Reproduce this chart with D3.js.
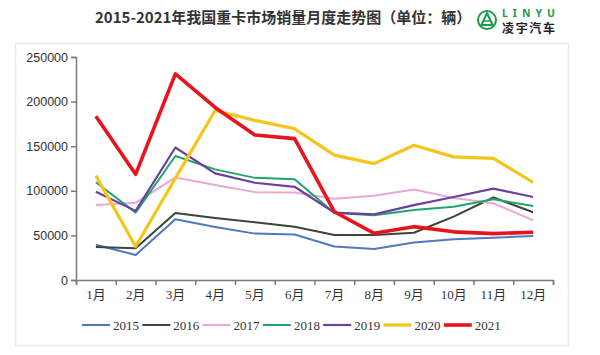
<!DOCTYPE html>
<html><head><meta charset="utf-8">
<script src="https://cdn.jsdelivr.net/npm/d3@7"></script>
<style>
html,body{margin:0;padding:0;background:#fff;}
svg{display:block;}
</style></head>
<body>
<svg id="chart" width="600" height="355"></svg>
<script>
const months = ["1月","2月","3月","4月","5月","6月","7月","8月","9月","10月","11月","12月"];
const yTicks = [0,50000,100000,150000,200000,250000];
const years = ["2015","2016","2017","2018","2019","2020","2021"];
const s2015 = [39500,28000,68000,59500,52000,51000,37500,34800,42000,45600,47400,49300];
const s2016 = [37000,35500,75000,69500,64700,59800,50400,50400,53000,71000,92500,76000];
const s2017 = [84000,86500,115000,106500,98500,98000,91000,94500,101500,92000,86000,67000];
const s2018 = [109500,75500,139000,124000,114500,113000,75000,72500,78500,82000,90500,83000];
const s2019 = [99000,77500,148500,119500,109000,104500,75500,73500,84000,93000,102500,93000];
const s2020 = [117000,37500,114000,190000,179000,169500,140000,130500,151000,138000,136400,109500];
const s2021 = [183500,118500,231000,193500,162500,158500,76500,52300,59800,54000,52000,53500];
const colors = ["#5079be","#3b4636","#eaa8d4","#1fa66b","#6b409f","#f6c51a","#e8131b"];
const widths = [2,2,2,2,2.2,3.2,3.6];
const seriesList = [s2015,s2016,s2017,s2018,s2019,s2020,s2021];

const svg = d3.select("#chart");

// panel
svg.append("rect").attr("x",15.5).attr("y",43.5).attr("width",553).attr("height",302)
  .attr("fill","#fff").attr("stroke","#ebebeb").attr("stroke-width",1.5);

// title
svg.append("text").attr("x",95).attr("y",23)
  .attr("font-family","'Noto Sans CJK SC','Noto Sans',sans-serif").attr("font-weight","bold")
  .attr("font-size",15).attr("fill","#333")
  .text("2015-2021年我国重卡市场销量月度走势图（单位：辆）");

// logo
const logo = svg.append("g");
logo.append("circle").attr("cx",487).attr("cy",20).attr("r",9).attr("fill","none").attr("stroke","#1d9a48").attr("stroke-width",2);
logo.append("path").attr("d","M487,13 L481.5,25 L492.5,25 Z").attr("fill","none").attr("stroke","#1d9a48").attr("stroke-width",2).attr("stroke-linejoin","round");
logo.append("line").attr("x1",484).attr("x2",490).attr("y1",21).attr("y2",21).attr("stroke","#1d9a48").attr("stroke-width",1.5);
logo.append("text").attr("x",502).attr("y",17).attr("font-family","'Noto Sans',sans-serif")
  .attr("font-weight","bold").attr("font-size",10.5).attr("fill","#1d9a48").attr("textLength",53).text("LINYU");
logo.append("text").attr("x",502).attr("y",33).attr("font-family","'Noto Sans CJK SC',sans-serif")
  .attr("font-weight","bold").attr("font-size",12).attr("fill","#222").attr("textLength",53).text("凌宇汽车");

// scales
const x = d3.scaleBand().domain(months).range([76,553]).padding(0);
const xb = d3.scaleLinear().domain([0,12]).range([76,553]);
const y = d3.scaleLinear().domain([0,250000]).range([280,57]);

// y axis
const gy = svg.append("g").attr("transform","translate(76,0)")
  .call(d3.axisLeft(y).tickValues(yTicks).tickSize(5).tickPadding(3).tickFormat(d3.format("d")));
gy.select(".domain").attr("stroke","#7a7a7a").attr("stroke-width",1.5);
gy.selectAll(".tick line").attr("stroke","#7a7a7a").attr("stroke-width",1.5);
gy.selectAll(".tick text").attr("font-family","'Liberation Sans',Arial,sans-serif").attr("font-size",12.5).attr("fill","#333");

// x axis: boundary ticks
const gxb = svg.append("g").attr("transform","translate(0,280)")
  .call(d3.axisBottom(xb).tickValues(d3.range(0,13)).tickSize(5).tickFormat(""));
gxb.select(".domain").attr("stroke","#7a7a7a").attr("stroke-width",1.5);
gxb.selectAll(".tick line").attr("stroke","#7a7a7a").attr("stroke-width",1.5);
// x labels
const gx = svg.append("g").attr("transform","translate(0,280)")
  .call(d3.axisBottom(x).tickSize(0).tickPadding(10));
gx.select(".domain").remove();
gx.selectAll(".tick text").attr("font-family","'Liberation Serif','Noto Sans CJK SC',serif").attr("font-size",13).attr("fill","#333");

// lines
const line = d3.line().x((d,i)=>x(months[i])+x.bandwidth()/2).y(d=>y(d));
seriesList.forEach((s,k)=>{
  svg.append("path").datum(s).attr("d",line).attr("fill","none")
    .attr("stroke",colors[k]).attr("stroke-width",widths[k])
    .attr("stroke-linejoin","round").attr("stroke-linecap","butt");
});

// legend
const lg = svg.append("g");
years.forEach((yr,k)=>{
  const lx = 82 + k*60.3;
  lg.append("line").attr("x1",lx).attr("x2",lx+28).attr("y1",325).attr("y2",325)
    .attr("stroke",colors[k]).attr("stroke-width",widths[k]);
  lg.append("text").attr("x",lx+31).attr("y",329.5)
    .attr("font-family","'Liberation Serif',serif").attr("font-size",13).attr("fill","#333").text(yr);
});
</script>
</body></html>
